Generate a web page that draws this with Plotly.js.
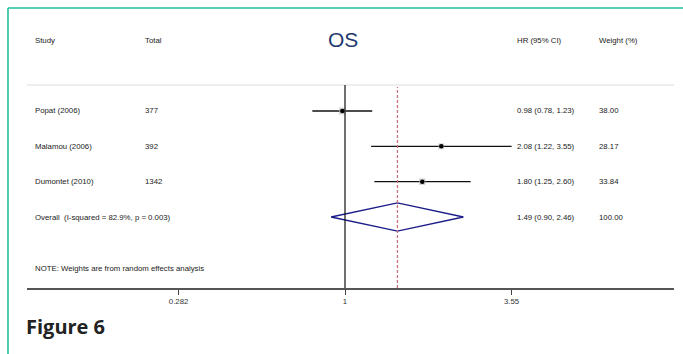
<!DOCTYPE html>
<html>
<head>
<meta charset="utf-8">
<script src="https://cdn.plot.ly/plotly-3.0.1.min.js"></script>
<style>
  html, body { margin: 0; padding: 0; background: #fff; }
  #chart { width: 683px; height: 354px; }
</style>
</head>
<body>
<div id="chart"></div>
<script>
// Forest plot of overall survival (OS) hazard ratios
const studies = ['Popat (2006)', 'Malamou (2006)', 'Dumontet (2010)'];
const totals = [377, 392, 1342];
const hr = [0.98, 2.08, 1.80];
const ciLow = [0.78, 1.22, 1.25];
const ciHigh = [1.23, 3.55, 2.60];
const weights = [38.00, 28.17, 33.84];

const overallLabel = 'Overall  (I-squared = 82.9%, p = 0.003)';
const overallHR = 1.49;
const overallLow = 0.90;
const overallHigh = 2.46;
const overallWeight = 100.00;

const tickVals = [0.282, 1, 3.55];
const tickText = ['0.282', '1', '3.55'];

const W = 683, H = 354;
const px = x => x / W;
const py = y => 1 - y / H;

// rows: 1..3 studies, 4 overall
const rows = studies.map((_, i) => i + 1);
const overallRow = studies.length + 1;
const noteRow = 5.47;

const textFont = { family: 'Liberation Sans, Arial, sans-serif', size: 7.8, color: '#222' };

// confidence interval segments
const ciX = [], ciY = [];
rows.forEach((r, i) => { ciX.push(ciLow[i], ciHigh[i], null); ciY.push(r, r, null); });

const traces = [
  {
    x: ciX, y: ciY, mode: 'lines', type: 'scatter',
    line: { color: '#111', width: 1.3 }, hoverinfo: 'skip', cliponaxis: false
  },
  {
    x: hr, y: rows, mode: 'markers', type: 'scatter',
    marker: { symbol: 'square', color: '#bdbdbd', size: weights.map(w => Math.sqrt(w) * 1.1), line: { width: 0 } },
    hoverinfo: 'skip'
  },
  {
    x: hr, y: rows, mode: 'markers', type: 'scatter',
    marker: { symbol: 'circle', color: '#000', size: 4.5 },
    hoverinfo: 'skip'
  },
  {
    // pooled estimate diamond
    x: [overallLow, overallHR, overallHigh, overallHR, overallLow],
    y: [overallRow, overallRow - 0.4, overallRow, overallRow + 0.4, overallRow],
    mode: 'lines', type: 'scatter',
    line: { color: '#1c1c8a', width: 1.4 }, hoverinfo: 'skip'
  }
];

const annotations = [];
function addText(x, y, text, opts) {
  annotations.push(Object.assign({
    xref: 'paper', yref: 'y', x: px(x), y: y, text: text,
    showarrow: false, xanchor: 'left', yanchor: 'middle', font: textFont
  }, opts || {}));
}
function addHeader(x, text) {
  addText(x, py(41), text, { yref: 'paper' });
}

// column headers
addHeader(33, 'Study');
addHeader(143, 'Total');
addHeader(515, 'HR (95% CI)');
addHeader(597, 'Weight (%)');

studies.forEach((s, i) => {
  addText(33, rows[i], s);
  addText(143, rows[i], String(totals[i]));
  addText(515, rows[i], hr[i].toFixed(2) + ' (' + ciLow[i].toFixed(2) + ', ' + ciHigh[i].toFixed(2) + ')');
  addText(597, rows[i], weights[i].toFixed(2));
});
addText(33, overallRow, overallLabel);
addText(515, overallRow, overallHR.toFixed(2) + ' (' + overallLow.toFixed(2) + ', ' + overallHigh.toFixed(2) + ')');
addText(597, overallRow, overallWeight.toFixed(2));
addText(33, noteRow, 'NOTE: Weights are from random effects analysis');

// title and figure caption
annotations.push({
  xref: 'paper', yref: 'paper', x: px(343), y: py(40), text: 'OS', showarrow: false,
  xanchor: 'center', yanchor: 'middle',
  font: { family: 'Liberation Sans, Arial, sans-serif', size: 21, color: '#1f3a6e' }
});
annotations.push({
  xref: 'paper', yref: 'paper', x: px(24), y: py(326), text: '<b>Figure 6</b>', showarrow: false,
  xanchor: 'left', yanchor: 'middle',
  font: { family: 'Open Sans, Noto Sans, sans-serif', size: 20, color: '#222' }
});

const teal = '#22bfa0';
const shapes = [
  // page frame
  { type: 'line', xref: 'paper', yref: 'paper', x0: px(8), x1: 1, y0: py(8), y1: py(8), line: { color: teal, width: 1.6 } },
  { type: 'line', xref: 'paper', yref: 'paper', x0: px(8), x1: px(8), y0: py(8), y1: 0, line: { color: teal, width: 1.6 } },
  // top rule of the plot region
  { type: 'line', xref: 'paper', yref: 'paper', x0: px(27), x1: px(674), y0: py(85), y1: py(85), line: { color: '#dcdcdc', width: 1 } },
  // no-effect line
  { type: 'line', xref: 'x', yref: 'y domain', x0: 1, x1: 1, y0: 0, y1: 1, line: { color: '#111', width: 1.2 } },
  // pooled estimate line
  { type: 'line', xref: 'x', yref: 'paper', x0: overallHR, x1: overallHR, y0: py(288), y1: py(87), line: { color: '#c8707c', width: 1.3, dash: '3px,2px' } }
];

const pxPerLog10 = 302.8;
const layout = {
  width: W, height: H,
  margin: { l: 0, r: 0, t: 0, b: 0 },
  paper_bgcolor: '#fff', plot_bgcolor: 'rgba(0,0,0,0)',
  showlegend: false,
  xaxis: {
    type: 'log',
    domain: [px(27), px(674)],
    range: [-(345 - 27) / pxPerLog10, (674 - 345) / pxPerLog10],
    tickvals: tickVals, ticktext: tickText,
    ticks: 'outside', ticklen: 5, tickwidth: 1, tickcolor: '#444',
    showline: true, linecolor: '#555', linewidth: 1.6,
    showgrid: false, zeroline: false,
    tickfont: { family: 'Liberation Sans, Arial, sans-serif', size: 7.8, color: '#333' },
    fixedrange: true
  },
  yaxis: {
    domain: [py(288), py(85)],
    range: [4 + (288 - 217) / 35.33, 1 - (111 - 85) / 35.33],
    showticklabels: false, showgrid: false, zeroline: false, showline: false, ticks: '',
    fixedrange: true
  },
  shapes: shapes,
  annotations: annotations
};

Plotly.newPlot('chart', traces, layout, { displayModeBar: false, staticPlot: true });
</script>
</body>
</html>
